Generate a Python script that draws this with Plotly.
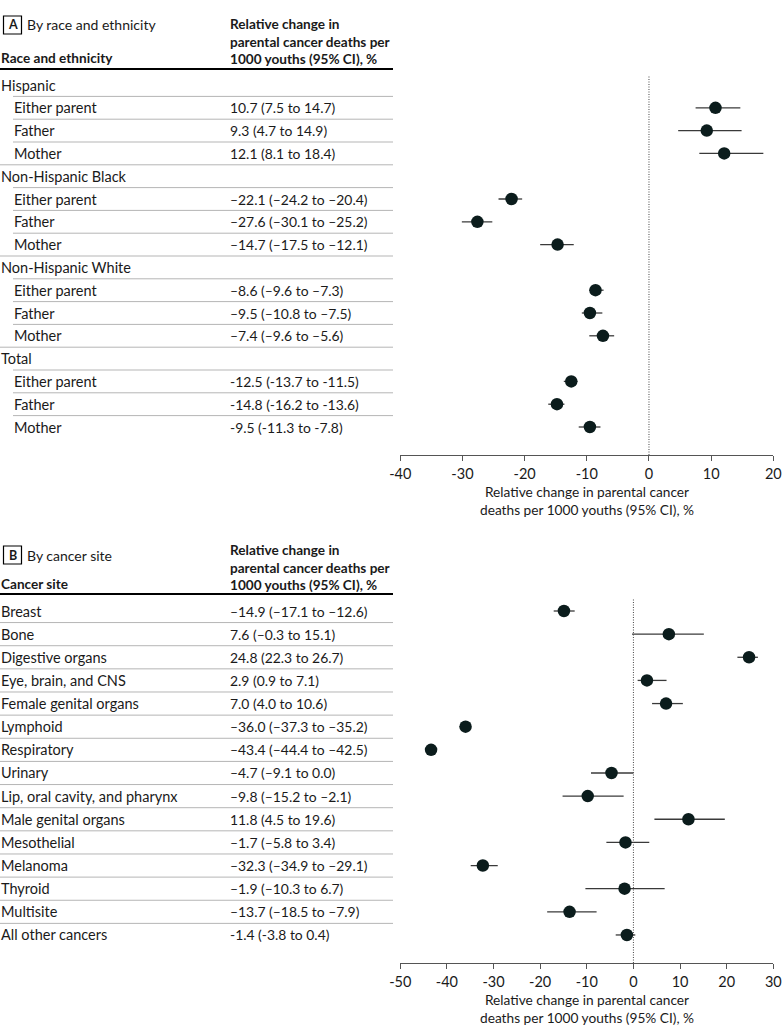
import plotly.graph_objects as go

# ---------------- Data ----------------
# Panel A: by race and ethnicity
a_groups = ["Hispanic", "Non-Hispanic Black", "Non-Hispanic White", "Total"]
a_subs = ["Either parent", "Father", "Mother"]
a_est = [10.7, 9.3, 12.1, -22.1, -27.6, -14.7, -8.6, -9.5, -7.4, -12.5, -14.8, -9.5]
a_lo = [7.5, 4.7, 8.1, -24.2, -30.1, -17.5, -9.6, -10.8, -9.6, -13.7, -16.2, -11.3]
a_hi = [14.7, 14.9, 18.4, -20.4, -25.2, -12.1, -7.3, -7.5, -5.6, -11.5, -13.6, -7.8]
a_text = ["10.7 (7.5 to 14.7)", "9.3 (4.7 to 14.9)", "12.1 (8.1 to 18.4)",
          "–22.1 (–24.2 to –20.4)", "–27.6 (–30.1 to –25.2)", "–14.7 (–17.5 to –12.1)",
          "–8.6 (–9.6 to –7.3)", "–9.5 (–10.8 to –7.5)", "–7.4 (–9.6 to –5.6)",
          "-12.5 (-13.7 to -11.5)", "-14.8 (-16.2 to -13.6)", "-9.5 (-11.3 to -7.8)"]
a_ticks = [-40, -30, -20, -10, 0, 10, 20]

# Panel B: by cancer site
b_sites = ["Breast", "Bone", "Digestive organs", "Eye, brain, and CNS", "Female genital organs",
           "Lymphoid", "Respiratory", "Urinary", "Lip, oral cavity, and pharynx",
           "Male genital organs", "Mesothelial", "Melanoma", "Thyroid", "Multisite",
           "All other cancers"]
b_est = [-14.9, 7.6, 24.8, 2.9, 7.0, -36.0, -43.4, -4.7, -9.8, 11.8, -1.7, -32.3, -1.9, -13.7, -1.4]
b_lo = [-17.1, -0.3, 22.3, 0.9, 4.0, -37.3, -44.4, -9.1, -15.2, 4.5, -5.8, -34.9, -10.3, -18.5, -3.8]
b_hi = [-12.6, 15.1, 26.7, 7.1, 10.6, -35.2, -42.5, 0.0, -2.1, 19.6, 3.4, -29.1, 6.7, -7.9, 0.4]
b_text = ["–14.9 (–17.1 to –12.6)", "7.6 (–0.3 to 15.1)", "24.8 (22.3 to 26.7)",
          "2.9 (0.9 to 7.1)", "7.0 (4.0 to 10.6)", "–36.0 (–37.3 to –35.2)",
          "–43.4 (–44.4 to –42.5)", "–4.7 (–9.1 to 0.0)", "–9.8 (–15.2 to –2.1)",
          "11.8 (4.5 to 19.6)", "–1.7 (–5.8 to 3.4)", "–32.3 (–34.9 to –29.1)",
          "–1.9 (–10.3 to 6.7)", "–13.7 (–18.5 to –7.9)", "-1.4 (-3.8 to 0.4)"]
b_ticks = [-50, -40, -30, -20, -10, 0, 10, 20, 30]

axis_title = "Relative change in parental cancer<br>deaths per 1000 youths (95% CI), %"
col_header = "Relative change in<br>parental cancer deaths per<br>1000 youths (95% CI), %"

# ---------------- Layout constants ----------------
W, H = 783, 1033
FONT = "Lato"
TXT = "#1a1a1a"
MARK = "#0b1c1c"
ERR = "#3a3a3a"
GRID = "#b5b5b5"
FS_LAB = 14.5
FS_NUM = 13.9
FSH = 13.6

A_TOP, A_STEP = 85.0, 22.8     # pixel y of first row and row step
B_TOP, B_STEP = 611.0, 23.14
A_AXIS_Y, B_AXIS_Y = 455.0, 963.0
X0, X1 = 400.3, 773.3
TABLE_R = 393.0
PAD = 2

A_HEAD = dict(box=25, hmid=41, col=58, line=69, dot=75)
B_HEAD = dict(box=555, hmid=567, col=584, line=594, dot=598)

def yr(top, step):
    return [(H - top) / step, -top / step]

def py(p):
    return 1 - p / H

def px(p):
    return p / W

fig = go.Figure()

a_rows = []
idx = 0
for g in a_groups:
    a_rows.append((g, True, None))
    for s in a_subs:
        a_rows.append((s, False, idx))
        idx += 1

a_y = [k for k, r in enumerate(a_rows) if not r[1]]

fig.add_trace(go.Scatter(
    x=a_est, y=a_y, mode="markers",
    marker=dict(size=12.5, color=MARK),
    error_x=dict(type="data", symmetric=False,
                 array=[h - e for h, e in zip(a_hi, a_est)],
                 arrayminus=[e - l for e, l in zip(a_est, a_lo)],
                 color=ERR, thickness=1.3, width=0),
    xaxis="x", yaxis="y", showlegend=False, hoverinfo="skip"))

b_y = list(range(len(b_sites)))
fig.add_trace(go.Scatter(
    x=b_est, y=b_y, mode="markers",
    marker=dict(size=12.5, color=MARK),
    error_x=dict(type="data", symmetric=False,
                 array=[h - e for h, e in zip(b_hi, b_est)],
                 arrayminus=[e - l for e, l in zip(b_est, b_lo)],
                 color=ERR, thickness=1.3, width=0),
    xaxis="x2", yaxis="y2", showlegend=False, hoverinfo="skip"))

ann = []
shapes = []

def text(x, y, s, yref="paper", bold=False, size=FS_LAB, xanchor="left", align="left"):
    ann.append(dict(x=x, y=y, xref="paper", yref=yref, text=f"<b>{s}</b>" if bold else s,
                    showarrow=False, xanchor=xanchor, yanchor="middle", align=align,
                    borderpad=0,
                    font=dict(family=FONT, size=size, color=TXT)))

for k, (lab, grp, di) in enumerate(a_rows):
    text(px(2 - PAD if grp else 15 - PAD), k, lab, yref="y")
    if di is not None:
        text(px(231 - PAD), k, a_text[di], yref="y", size=FS_NUM)
    if k < len(a_rows) - 1:
        nxt_grp = a_rows[k + 1][1]
        x_start = 0 if nxt_grp else 13
        shapes.append(dict(type="line", xref="paper", yref="y", x0=px(x_start), x1=px(TABLE_R),
                           y0=k + 0.5, y1=k + 0.5, line=dict(color=GRID, width=1)))

for k, lab in enumerate(b_sites):
    text(px(2 - PAD), k, lab, yref="y2")
    text(px(231 - PAD), k, b_text[k], yref="y2", size=FS_NUM)
    if k < len(b_sites) - 1:
        shapes.append(dict(type="line", xref="paper", yref="y2", x0=0, x1=px(TABLE_R),
                           y0=k + 0.5, y1=k + 0.5, line=dict(color=GRID, width=1)))

for (hd, letter, title, colname, xr, axis_y) in [
        (A_HEAD, "A", "By race and ethnicity", "Race and ethnicity", "x", A_AXIS_Y),
        (B_HEAD, "B", "By cancer site", "Cancer site", "x2", B_AXIS_Y)]:
    shapes.append(dict(type="line", xref="paper", yref="paper", x0=0, x1=px(TABLE_R),
                       y0=py(hd["line"]), y1=py(hd["line"]), line=dict(color="black", width=2)))
    text(px(231 - PAD), py(hd["hmid"]), col_header, bold=True, size=FSH)
    text(px(2 - PAD), py(hd["col"]), colname, bold=True, size=FSH)
    bc = hd["box"]
    shapes.append(dict(type="rect", xref="paper", yref="paper", x0=px(3.5), x1=px(21.5),
                       y0=py(bc + 9), y1=py(bc - 9), line=dict(color="black", width=1.2)))
    text(px(12.5), py(bc), letter, bold=True, size=12.5, xanchor="center")
    text(px(28 - PAD), py(bc), title, size=14)
    shapes.append(dict(type="line", xref=xr, yref="paper", x0=0, x1=0,
                       y0=py(axis_y), y1=py(hd["dot"]),
                       line=dict(color="#444", width=1, dash="1px,1.5px")))
    text((px(X0) + px(X1)) / 2, py(axis_y + 45), axis_title, xanchor="center", align="center",
         size=13.7)

xcommon = dict(showgrid=False, zeroline=False, showline=True, linecolor="#555", linewidth=1.2,
               ticks="outside", ticklen=5, tickcolor="#555", tickwidth=1.2,
               tickfont=dict(family=FONT, size=14.5, color=TXT), anchor="free",
               automargin=False, domain=[px(X0), px(X1)])

fig.update_layout(
    width=W, height=H, autosize=False, margin=dict(l=0, r=0, t=0, b=0, pad=0),
    paper_bgcolor="white", plot_bgcolor="rgba(0,0,0,0)",
    xaxis=dict(range=[-40, 20], tickvals=a_ticks, ticktext=[str(t) for t in a_ticks],
               position=py(A_AXIS_Y), **xcommon),
    xaxis2=dict(range=[-50, 30], tickvals=b_ticks, ticktext=[str(t) for t in b_ticks],
                position=py(B_AXIS_Y), **xcommon),
    yaxis=dict(domain=[0, 1], range=yr(A_TOP, A_STEP), visible=False, automargin=False),
    yaxis2=dict(domain=[0, 1], range=yr(B_TOP, B_STEP), visible=False, overlaying="y",
                anchor="x2", automargin=False),
    annotations=ann, shapes=shapes, showlegend=False,
)

fig.write_html("out.html")
